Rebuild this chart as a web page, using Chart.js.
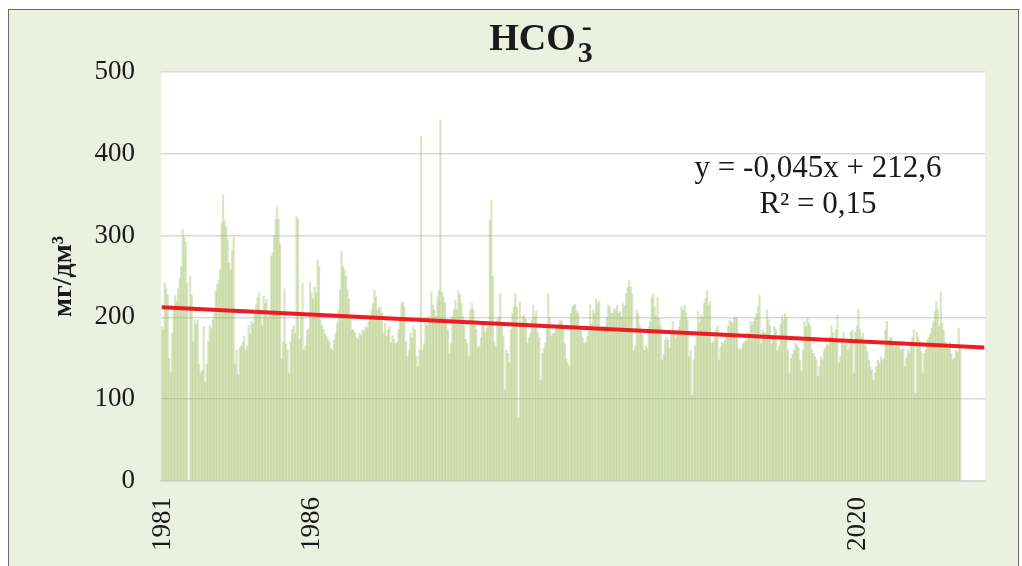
<!DOCTYPE html>
<html>
<head>
<meta charset="utf-8">
<script src="https://cdn.jsdelivr.net/npm/chart.js@4"></script>
<style>
  html, body { margin: 0; padding: 0; background: #ffffff; }
  #wrap { position: absolute; left: 0; top: 0; width: 1022px; height: 566px; }
</style>
</head>
<body>
<div id="wrap"><canvas id="c" width="1022" height="566"></canvas></div>
<script>
// ---- data (each bar = 2 consecutive samples) ----
const hco3 = [
189,185,242,235,228,150,133,181,210,227,220,235,248,262,308,298,292,242,
0,250,227,170,197,192,197,143,132,135,189,121,143,170,190,186,197,205,
232,240,245,258,315,350,318,310,295,266,258,282,298,143,160,130,162,165,
170,177,160,165,190,180,195,192,205,215,225,230,205,190,226,217,222,200,
205,275,279,300,320,335,320,290,150,170,235,167,160,132,170,185,190,180,
323,320,173,207,242,160,165,184,186,243,230,222,237,230,270,262,197,190,
185,180,177,173,170,162,160,172,180,193,209,233,281,262,258,250,233,222,
200,185,185,181,175,173,181,178,185,183,189,187,195,201,209,217,233,225,
209,212,213,205,181,193,177,185,189,168,178,173,168,170,185,200,217,219,
213,170,152,160,181,175,189,185,152,140,160,421,160,168,193,190,201,196,
231,215,209,201,225,233,441,231,225,218,193,185,156,168,201,209,221,209,
233,228,217,201,190,173,168,152,209,217,210,193,185,164,164,175,193,190,
181,187,190,319,343,250,170,164,197,201,229,189,177,112,160,156,144,185,
205,213,229,213,77,219,189,201,203,198,168,175,181,197,215,201,208,182,
175,123,156,162,168,191,229,200,177,180,181,186,189,192,197,195,190,168,
150,144,140,205,213,215,216,207,205,185,185,175,168,170,177,183,215,193,
209,205,223,217,220,185,189,185,189,200,215,213,205,205,211,208,215,205,
207,200,217,214,229,237,245,237,229,160,165,209,205,191,185,178,160,165,
162,189,195,225,229,213,201,225,199,190,148,155,172,176,172,162,181,195,
180,174,182,188,197,213,209,215,205,197,152,160,105,148,165,177,207,193,
203,200,217,223,233,215,219,168,170,181,185,189,148,164,170,168,172,180,
189,197,195,193,199,201,200,162,160,162,168,170,172,182,180,195,191,195,
199,205,213,227,168,185,182,180,209,197,190,168,175,189,185,160,165,191,
203,197,205,200,160,132,150,155,160,168,166,163,148,134,160,195,189,199,
193,189,160,156,152,148,128,140,152,148,160,163,168,166,176,190,181,174,
185,203,144,152,168,182,166,172,160,165,182,185,132,182,190,210,185,176,
181,172,165,158,148,140,136,123,132,140,148,144,152,148,150,185,195,172,
174,176,170,164,165,168,166,162,160,162,140,150,160,156,168,176,185,107,
182,176,170,158,132,156,160,172,176,180,187,195,207,220,209,189,231,193,
185,170,164,162,170,156,148,150,160,158,187,165
];
const categoryCount = 550;          // axis extends past the data (trend forecast)
const tickLabels = ['1981', '1986', '2020'];
const tickIndex  = [1, 100, 465];
const samplesPerBar = 2;
const trendSlope = -0.045;
const trendIntercept = 212.6;
const eqLines = ['y = -0,045x + 212,6', 'R² = 0,15'];
const yTicks = [0, 100, 200, 300, 400, 500];

// ---- derived structures for the library ----
const labels = Array.from({length: categoryCount}, (_, i) => {
  const k = tickIndex.indexOf(i);
  return k >= 0 ? tickLabels[k] : '';
});
const trend = new Array(categoryCount).fill(null);
trend[0] = trendIntercept + trendSlope * (samplesPerBar * 0 + 1);
trend[categoryCount - 1] = trendIntercept + trendSlope * (samplesPerBar * (categoryCount - 1) + 1);

const SERIF = '"Liberation Serif", "Times New Roman", serif';

const decor = {
  id: 'decor',
  beforeDraw(chart) {
    const {ctx, chartArea: a} = chart;
    ctx.save();
    ctx.fillStyle = '#ffffff';
    ctx.fillRect(0, 0, chart.width, chart.height);
    ctx.fillStyle = '#EBF1DE';
    ctx.fillRect(8, 9, 1010, chart.height);
    ctx.strokeStyle = '#6b6b6b';
    ctx.lineWidth = 1;
    ctx.strokeRect(8.5, 9.5, 1010, chart.height + 10);
    ctx.fillStyle = '#ffffff';
    ctx.fillRect(a.left, a.top, a.right - a.left, a.bottom - a.top);
    ctx.restore();
  },
  afterDraw(chart) {
    const {ctx} = chart;
    ctx.save();
    ctx.fillStyle = '#1a1a1a';
    ctx.textBaseline = 'alphabetic';
    ctx.textAlign = 'left';
    // title HCO3- with subscript / superscript
    ctx.font = 'bold 38px ' + SERIF;
    const wMain = ctx.measureText('HCO').width;
    ctx.font = 'bold 30px ' + SERIF;
    const wSub = ctx.measureText('3').width;
    const x0 = 541 - (wMain + wSub + 2) / 2;
    ctx.font = 'bold 38px ' + SERIF;
    ctx.fillText('HCO', x0, 50);
    ctx.font = 'bold 30px ' + SERIF;
    ctx.fillText('3', x0 + wMain + 2, 62);
    ctx.fillText('-', x0 + wMain + 6, 36);
    // trend equation
    ctx.font = '31px ' + SERIF;
    ctx.textAlign = 'center';
    ctx.fillText(eqLines[0], 818, 177);
    ctx.fillText(eqLines[1], 818, 213);
    ctx.restore();
  }
};

new Chart(document.getElementById('c'), {
  type: 'bar',
  data: {
    labels: labels,
    datasets: [
      {
        type: 'line',
        data: trend,
        borderColor: 'rgb(237,28,36)',
        borderWidth: 4,
        pointRadius: 0,
        spanGaps: true,
        fill: false,
        order: 0
      },
      {
        type: 'bar',
        data: hco3,
        backgroundColor: 'rgba(155,187,89,0.38)',
        borderWidth: 0,
        barPercentage: 1.0,
        categoryPercentage: 1.0,
        order: 1
      }
    ]
  },
  options: {
    responsive: false,
    animation: false,
    devicePixelRatio: 1,
    layout: { padding: { left: 0, top: 72, right: 37, bottom: 0 } },
    plugins: { legend: { display: false }, tooltip: { enabled: false }, title: { display: false } },
    scales: {
      x: {
        grid: { display: false, drawTicks: false },
        border: { display: true, color: '#d9d9d9', width: 2 },
        ticks: {
          autoSkip: false,
          maxRotation: 90,
          minRotation: 90,
          padding: 16,
          color: '#1a1a1a',
          font: { family: SERIF, size: 27 }
        },
        afterFit(scale) { scale.height = 85; scale.paddingRight = 0; scale.paddingLeft = 0; }
      },
      y: {
        min: 0,
        max: 500,
        afterBuildTicks(scale) { scale.ticks = yTicks.map(v => ({value: v})); },
        grid: { color: '#d9d9d9', lineWidth: 1.5, drawTicks: false },
        border: { display: false },
        ticks: {
          padding: 26,
          color: '#1a1a1a',
          font: { family: SERIF, size: 27 }
        },
        title: {
          display: true,
          text: 'мг/дм³',
          color: '#1a1a1a',
          font: { family: SERIF, size: 28, weight: 'bold' },
          padding: { top: 47, bottom: 0 }
        },
        afterFit(scale) { scale.width = 161; }
      }
    }
  },
  plugins: [decor]
});
</script>
</body>
</html>
